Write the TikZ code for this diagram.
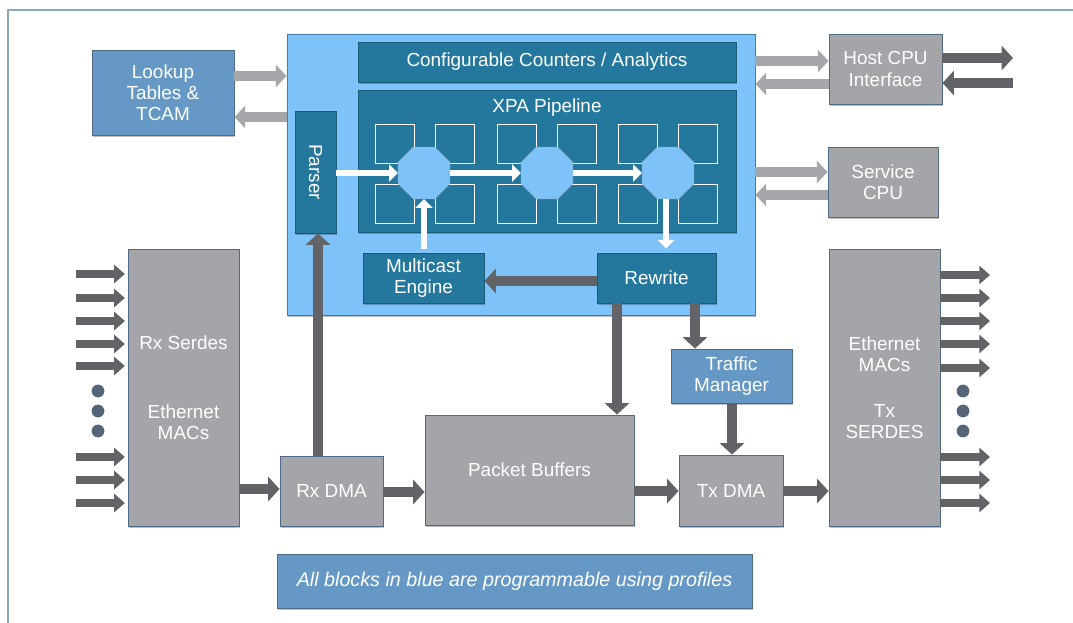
\documentclass[tikz,border=0pt]{standalone}
\usepackage{fontspec}
\setmainfont{Liberation Sans}
\usetikzlibrary{arrows.meta,shapes.geometric,fit,shadows}
\definecolor{progbg}{RGB}{125,194,248}
\definecolor{progbd}{RGB}{62,125,172}
\definecolor{dteal}{RGB}{36,120,157}
\definecolor{sblue}{RGB}{101,152,196}
\definecolor{gboxc}{RGB}{163,165,169}
\definecolor{bdr}{RGB}{78,106,134}
\definecolor{darr}{RGB}{98,99,102}
\definecolor{larr}{RGB}{165,167,170}
\definecolor{dotc}{RGB}{85,100,118}
\definecolor{framec}{RGB}{140,165,185}
\newcommand\fsz{\fontsize{14.2}{15.8}\selectfont}
\begin{document}
\begin{tikzpicture}[x=0.75pt,y=-0.75pt,
  shd/.style={drop shadow={shadow xshift=0.8pt,shadow yshift=-1.2pt,opacity=0.25,fill=black}},
  lbl/.style={text=white,align=center,font=\fsz,inner sep=0pt},
  txt/.style={label={[lbl]center:#1}},
  box/.style={draw=bdr,line width=0.7pt,inner sep=0pt},
  gbox/.style={box,fill=gboxc,shd},
  bbox/.style={box,fill=sblue,draw=bdr,shd},
  tbox/.style={box,fill=dteal,draw=dteal!75!black,shd},
  sq/.style={draw=white,line width=0.7pt,inner sep=0pt,minimum size=29.25pt},
  oct/.style={regular polygon,regular polygon sides=8,minimum size=42pt,inner sep=0pt,fill=progbg,draw=progbd!60},
  darrow/.style={draw=darr,line width=7.5pt,-{Triangle[length=8.5pt,width=18pt]}},
  sarrow/.style={draw=darr,line width=5.5pt,-{Triangle[length=8pt,width=13.5pt]}},
  larrow/.style={draw=larr,line width=7pt,-{Triangle[length=8pt,width=16.5pt]}},
  warrow/.style={draw=white,line width=5pt,-{Triangle[length=6.5pt,width=12.5pt]}}
]
\useasboundingbox (0,0) rectangle (1073,623);
\fill[white] (0,0) rectangle (1073,623);
\draw[framec,line width=1.5pt] (1090,10) -- (8,10) -- (8,640);

% programmable area
\node[fit={(287,34) (755,315)},inner sep=0pt,fill=progbg,draw=progbd,line width=0.7pt,shd] (Big) {};
\node[tbox,fit={(358,42) (736,82)},txt={Configurable Counters / Analytics}] (Counters) {};
\node[tbox,fit={(358,90) (736,232)}] (XPA) {};
\node[lbl] (XPAt) at (547,108) {XPA Pipeline};
\node[tbox,fit={(295,111) (336,233)},label={[lbl,rotate=-90]center:Parser}] (Parser) {};
\foreach \xx [count=\i] in {375,435,497,557,618,678}{
  \node[sq,anchor=north west] (sqa\i) at (\xx,124) {};
  \node[sq,anchor=north west] (sqb\i) at (\xx,184) {};
}
\node[oct] (oct1) at (424,173) {};
\node[oct] (oct2) at (547,173) {};
\node[oct] (oct3) at (668,173) {};
\node[tbox,fit={(363,253) (484,303)},txt={Multicast\\Engine}] (Multicast) {};
\node[tbox,fit={(597,253) (716,303)},txt={Rewrite}] (Rewrite) {};

% other blocks
\node[bbox,fit={(92,50) (234,135)},txt={Lookup\\Tables \&\\TCAM}] (Lookup) {};
\node[gbox,fit={(829,34) (942,104)},txt={Host CPU\\Interface}] (Host) {};
\node[gbox,fit={(828,147) (938,217)},txt={Service\\CPU}] (Service) {};
\node[gbox,fit={(128,249) (239,526)}] (RxS) {};
\node[lbl] (RxSt1) at (183.5,343) {Rx Serdes};
\node[lbl] (RxSt2) at (183.5,422) {Ethernet\\MACs};
\node[gbox,fit={(829,249) (940,526)}] (TxS) {};
\node[lbl] (TxSt1) at (884.5,354) {Ethernet\\MACs};
\node[lbl] (TxSt2) at (884.5,422) {Tx\\SERDES};
\node[gbox,fit={(280,456) (383,526)},txt={Rx DMA}] (RxDMA) {};
\node[gbox,fit={(425,415) (634,525)},txt={Packet Buffers}] (PB) {};
\node[bbox,fit={(671,349) (792,403)},txt={Traffic\\Manager}] (TM) {};
\node[gbox,fit={(679,455) (783,526)},txt={Tx DMA}] (TxDMA) {};
\node[bbox,fit={(277,554) (752,608)},label={[lbl,font=\fontsize{14.8}{17}\selectfont\itshape]center:All blocks in blue are programmable using profiles}] (Note) {};

% light arrows
\draw[larrow] (Lookup.east |- 0,76) -- (Big.west |- 0,76);
\draw[larrow] (Big.west |- 0,117) -- (Lookup.east |- 0,117);
\draw[larrow] (Big.east |- 0,61) -- (Host.west |- 0,61);
\draw[larrow] (Host.west |- 0,84) -- (Big.east |- 0,84);
\draw[larrow] (Big.east |- 0,172) -- (Service.west |- 0,172);
\draw[larrow] (Service.west |- 0,195) -- (Big.east |- 0,195);

% host external
\coordinate (hout) at (1013,58);
\coordinate (hin) at (1013,83);
\draw[darrow] (Host.east |- hout) -- (hout);
\draw[darrow] (hin) -- (Host.east |- hin);

% white pipeline arrows
\draw[warrow] (Parser.east |- oct1.west) -- (oct1.west);
\draw[warrow] (oct1.east) -- (oct2.west);
\draw[warrow] (oct2.east) -- (oct3.west);
\draw[warrow,shorten >=3pt] (oct3.south -| 666,0) -- (Rewrite.north -| 666,0);
\draw[warrow,shorten <=3pt] (Multicast.north -| oct1.south) -- (oct1.south);

% dark arrows
\draw[darrow] (Rewrite.west |- 0,281) -- (Multicast.east |- 0,281);
\draw[darrow] (RxS.east |- 0,489) -- (RxDMA.west |- 0,489);
\draw[darrow] (RxDMA.north -| 318,0) -- (Parser.south -| 318,0);
\draw[darrow] (RxDMA.east |- 0,492) -- (PB.west |- 0,492);
\draw[darrow] (Rewrite.south -| 617,0) -- (PB.north -| 617,0);
\draw[darrow] (Rewrite.south -| 695,0) -- (TM.north -| 695,0);
\draw[darrow] (TM.south -| 732,0) -- (TxDMA.north -| 732,0);
\draw[darrow] (PB.east |- 0,491) -- (TxDMA.west |- 0,491);
\draw[darrow] (TxDMA.east |- 0,491) -- (TxS.west |- 0,491);

% port arrows
\foreach \yy [count=\i] in {274,298,321,344,366,457,480,503}{
  \coordinate (in\i) at (76,\yy);
  \draw[sarrow,shorten >=2pt] (in\i) -- (RxS.west |- in\i);
}
\foreach \yy [count=\i] in {275,298,321,344,368,457,480,503}{
  \coordinate (out\i) at (990,\yy);
  \draw[sarrow] (TxS.east |- out\i) -- (out\i);
}
\foreach \yy in {391,411,431}{
  \fill[dotc] (98,\yy) circle[radius=4.8pt];
  \fill[dotc] (963,\yy) circle[radius=4.8pt];
}
\end{tikzpicture}
\end{document}
